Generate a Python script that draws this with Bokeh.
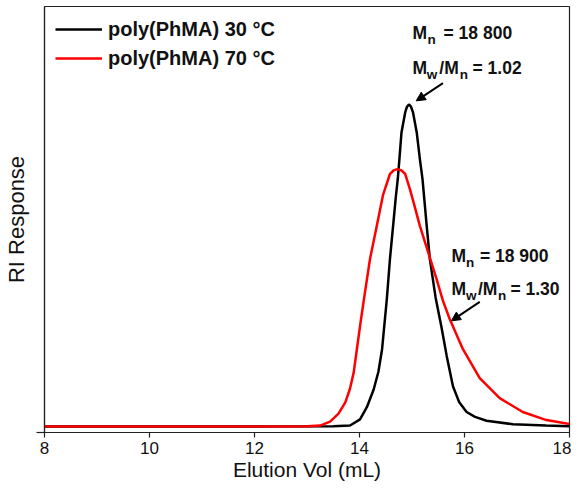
from bokeh.plotting import figure
from bokeh.models import (Range1d, FixedTicker, Label, Arrow, NormalHead, Legend, LegendItem,
                          CustomJSTickFormatter)
from bokeh.embed import file_html
from bokeh.resources import INLINE

# ---- data ----
vol_30 = [8.0, 12.0, 13.5, 13.82, 14.01, 14.14, 14.27, 14.36, 14.43, 14.52, 14.58, 14.64,
          14.69, 14.73, 14.76, 14.80, 14.87, 14.905, 14.94, 14.98, 15.02, 15.09, 15.15, 15.20,
          15.24, 15.28, 15.34, 15.45, 15.56, 15.66, 15.78, 15.90, 16.04, 16.20, 16.42, 16.92,
          17.55, 18.0]
ri_30 = [0.0, 0.0, 0.001, 0.003, 0.022, 0.06, 0.115, 0.17, 0.24, 0.395, 0.52, 0.623,
         0.71, 0.77, 0.83, 0.913, 0.975, 0.993, 1.0, 0.993, 0.975, 0.913, 0.83, 0.768,
         0.696, 0.623, 0.52, 0.40, 0.31, 0.22, 0.125, 0.075, 0.045, 0.03, 0.018, 0.007,
         0.003, 0.001]

vol_70 = [8.0, 12.5, 13.0, 13.25, 13.44, 13.60, 13.73, 13.82, 13.89, 13.95, 14.02, 14.08,
          14.20, 14.33, 14.45, 14.58, 14.65, 14.72, 14.80, 14.87, 14.96, 15.03, 15.15, 15.31,
          15.47, 15.59, 15.72, 15.97, 16.29, 16.67, 17.11, 17.56, 18.0]
ri_70 = [0.0, 0.0, 0.001, 0.003, 0.015, 0.04, 0.075, 0.118, 0.168, 0.24, 0.323, 0.39,
         0.52, 0.623, 0.72, 0.784, 0.795, 0.799, 0.795, 0.784, 0.737, 0.696, 0.623, 0.54,
         0.457, 0.39, 0.333, 0.24, 0.15, 0.088, 0.045, 0.02, 0.008]

x_ticks = [8, 10, 12, 14, 16, 18]
series_labels = ["poly(PhMA) 30 °C", "poly(PhMA) 70 °C"]
mn_values = ["18 800", "18 900"]
pdi_values = ["1.02", "1.30"]

Y0, Y1 = -0.0186, 1.304
FONT = "Liberation Sans"

p = figure(width=571, height=483, x_range=Range1d(8, 18), y_range=Range1d(Y0, Y1),
           output_backend="svg", toolbar_location=None,
           min_border_left=42, min_border_right=2, min_border_top=6, min_border_bottom=51)

p.xgrid.visible = False
p.ygrid.visible = False
p.outline_line_color = "#222222"
p.outline_line_width = 1.2
p.background_fill_color = "white"

xa = p.xaxis[0]
xa.ticker = FixedTicker(ticks=x_ticks)
xa.major_tick_out = 5
xa.major_tick_in = 0
xa.minor_tick_out = 0
xa.minor_tick_in = 0
xa.axis_line_color = "#222222"
xa.axis_line_width = 1.2
xa.major_tick_line_color = "#222222"
xa.major_tick_line_width = 1.2
xa.major_label_text_font = FONT
xa.major_label_text_font_size = "17px"
xa.major_label_text_color = "#111111"
xa.major_label_standoff = 4
xa.axis_label = "Elution Vol (mL)"
xa.axis_label_text_font = FONT
xa.axis_label_text_font_size = "21px"
xa.axis_label_text_font_style = "normal"
xa.axis_label_text_color = "#111111"
xa.axis_label_standoff = 1

ya = p.yaxis[0]
ya.ticker = FixedTicker(ticks=[Y0])
ya.formatter = CustomJSTickFormatter(code="return ''")
ya.major_tick_out = 8
ya.major_tick_in = 0
ya.minor_tick_out = 0
ya.minor_tick_in = 0
ya.axis_line_color = "#222222"
ya.axis_line_width = 1.2
ya.major_tick_line_color = "#222222"
ya.major_tick_line_width = 1.2
ya.major_label_standoff = 0
ya.axis_label = "RI Response"
ya.axis_label_text_font = FONT
ya.axis_label_text_font_size = "22px"
ya.axis_label_text_font_style = "normal"
ya.axis_label_text_color = "#111111"
ya.axis_label_standoff = 8

r1 = p.line(vol_30, ri_30, line_color="black", line_width=2.5)
r2 = p.line(vol_70, ri_70, line_color="#ff0000", line_width=2.5)

legend = Legend(items=[LegendItem(label=series_labels[0], renderers=[r1]),
                       LegendItem(label=series_labels[1], renderers=[r2])],
                location="top_left", margin=11, padding=0, spacing=5,
                glyph_width=47, glyph_height=24, label_height=24, label_standoff=6,
                border_line_color=None, background_fill_alpha=0,
                label_text_font=FONT, label_text_font_style="bold",
                label_text_font_size="20px", label_text_color="#111111")
p.add_layout(legend)

BIG, SMALL = "17.5px", "13.5px"
SUB = -6.7


def put(x, y, txt, dx, dy, size):
    p.add_layout(Label(x=x, y=y, x_offset=dx, y_offset=dy, text=txt,
                       text_font=FONT, text_font_style="bold", text_font_size=size,
                       text_color="#111111", text_baseline="alphabetic", text_align="left"))


def block(x, y, mn, pdi, gap, pos):
    put(x, y, "M", 0, 0, BIG)
    put(x, y, "n", pos[0], SUB, SMALL)
    put(x, y, "= " + mn, pos[1], 0, BIG)
    put(x, y, "M", 0, -gap, BIG)
    put(x, y, "w", pos[2], -gap + SUB, SMALL)
    put(x, y, "/", pos[3], -gap, BIG)
    put(x, y, "M", pos[4], -gap, BIG)
    put(x, y, "n", pos[5], -gap + SUB, SMALL)
    put(x, y, "= " + pdi, pos[6], -gap, BIG)


block(15.01, 1.222, mn_values[0], pdi_values[0], 35.3, [15, 31, 14.3, 26.7, 31.7, 47.3, 60])
block(15.75, 0.530, mn_values[1], pdi_values[1], 33.4, [14.7, 28.5, 14.7, 26.7, 31.4, 46.7, 59])

head = dict(size=9, fill_color="black", line_color="black", line_width=1)
p.add_layout(Arrow(end=NormalHead(**head), x_start=15.59, y_start=1.066, x_end=15.08, y_end=1.011,
                   line_width=2, line_color="black"))
p.add_layout(Arrow(end=NormalHead(**head), x_start=16.29, y_start=0.387, x_end=15.75, y_end=0.328,
                   line_width=2, line_color="black"))

open("out.html", "w").write(file_html(p, INLINE))
